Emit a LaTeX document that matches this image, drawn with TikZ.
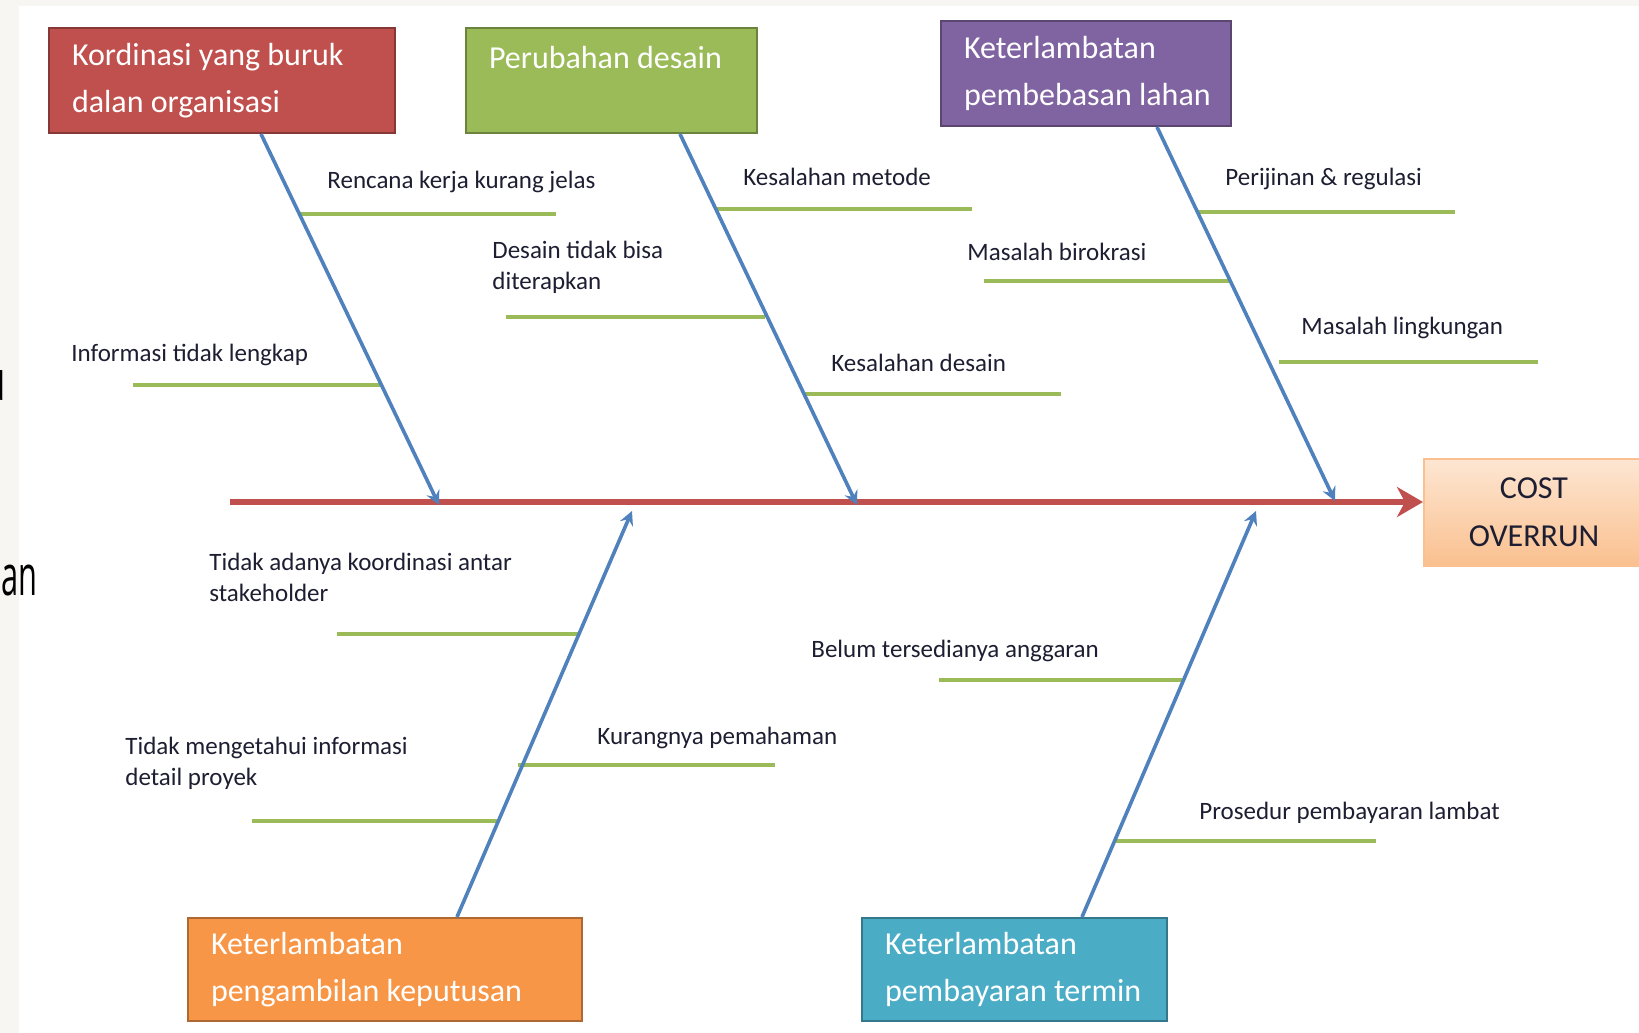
\documentclass[tikz,border=0pt]{standalone}
\usepackage{fontspec}
\setmainfont{Carlito}
\newfontfamily\pagefont{Open Sans}
\usetikzlibrary{arrows.meta}

\definecolor{pagegray}{HTML}{F7F6F2}
\definecolor{kred}{HTML}{C0504D}
\definecolor{kgreen}{HTML}{9BBB59}
\definecolor{kpurple}{HTML}{8064A2}
\definecolor{korange}{HTML}{F79646}
\definecolor{kblue}{HTML}{4BACC6}
\definecolor{bonec}{HTML}{4F81BD}
\definecolor{txtc}{HTML}{1E1E32}
\definecolor{costtop}{HTML}{FDE6D2}
\definecolor{costbot}{HTML}{FAC08F}

\def\boxh{52.5pt}
\tikzstyle{cat}=[rectangle,line width=1pt,text=white,align=flush left,inner xsep=11.5pt,inner ysep=0pt,minimum height=\boxh,font=\fontsize{16}{23.5}\selectfont]
\tikzstyle{costbox}=[rectangle,line width=1pt,draw=korange!60,top color=costtop,bottom color=costbot,text=txtc,align=center,minimum width=110pt,minimum height=53.5pt,font=\fontsize{16}{24}\selectfont]
\tikzstyle{lbl}=[inner sep=0pt,anchor=west,align=left,text=txtc,font=\fontsize{12.5}{15.5}\selectfont]
\tikzstyle{frag}=[anchor=base east,inner sep=0pt,font=\pagefont\fontsize{28}{28}\selectfont]
\tikzstyle{bone}=[draw=bonec,line width=1.8pt,-{Stealth[length=7pt,width=7pt,inset=2.5pt]}]
\tikzstyle{sub}=[draw=kgreen,line width=1.8pt]
\tikzstyle{spine}=[draw=kred,line width=3pt,-{Stealth[length=13pt,width=15pt,inset=4pt]}]

\begin{document}
\begin{tikzpicture}[x=0.5pt,y=-0.5pt]
\useasboundingbox (0,0) rectangle (1639,1033);
\fill[white] (0,0) rectangle (1639,1033);
\fill[pagegray] (0,0) rectangle (1639,6);
\fill[pagegray] (0,0) rectangle (19,1033);
% cut-off words of the page behind
\node[frag] (pu) at (6,400) {\scalebox{0.55}[1]{u}};
\node[frag] (pan) at (38,595) {\scalebox{0.55}[1]{an}};

% categories
\node[cat,fill=kred,draw=kred!70!black,text width=150pt] (1) at (222,80.5) {Kordinasi yang buruk\\dalan organisasi};
\node[cat,fill=kgreen,draw=kgreen!70!black,text width=122.5pt] (2) at (611.5,80.5) {Perubahan desain\\\mbox{}};
\node[cat,fill=kpurple,draw=kpurple!70!black,text width=122pt] (3) at (1086,73.5) {Keterlambatan\\\mbox{pembebasan lahan}};
\node[cat,fill=korange,draw=korange!70!black,text width=174pt,minimum height=51.5pt] (4) at (385,969.5) {Keterlambatan\\pengambilan keputusan};
\node[cat,fill=kblue,draw=kblue!70!black,text width=129.5pt,minimum height=51.5pt] (5) at (1014.5,969.5) {Keterlambatan\\\mbox{pembayaran termin}};
\node[costbox] (cost) at (1534,512.5) {COST\\OVERRUN};

% causes
\coordinate (r1a) at (298,214); \coordinate (r1b) at (556,214);
\draw[sub] (r1a) -- (r1b);
\node[lbl] (r1) at (327,182) {Rencana kerja kurang jelas};
\coordinate (r2a) at (133,385); \coordinate (r2b) at (380,385);
\draw[sub] (r2a) -- (r2b);
\node[lbl] (r2) at (71,355) {Informasi tidak lengkap};

\coordinate (g1a) at (506,317); \coordinate (g1b) at (765,317);
\draw[sub] (g1a) -- (g1b);
\node[lbl] (g1) at (492,267.5) {Desain tidak bisa\\diterapkan};
\coordinate (g2a) at (715,209); \coordinate (g2b) at (972,209);
\draw[sub] (g2a) -- (g2b);
\node[lbl] (g2) at (743,177) {Kesalahan metode};
\coordinate (g3a) at (804,394); \coordinate (g3b) at (1061,394);
\draw[sub] (g3a) -- (g3b);
\node[lbl] (g3) at (831,363) {Kesalahan desain};

\coordinate (p1a) at (1198,212); \coordinate (p1b) at (1455,212);
\draw[sub] (p1a) -- (p1b);
\node[lbl] (p1) at (1225,179) {Perijinan \& regulasi};
\coordinate (p2a) at (984,281); \coordinate (p2b) at (1230,281);
\draw[sub] (p2a) -- (p2b);
\node[lbl] (p2) at (967,252) {Masalah birokrasi};
\coordinate (p3a) at (1279,362); \coordinate (p3b) at (1538,362);
\draw[sub] (p3a) -- (p3b);
\node[lbl] (p3) at (1301,328) {Masalah lingkungan};

\coordinate (o1a) at (337,634); \coordinate (o1b) at (579,634);
\draw[sub] (o1a) -- (o1b);
\node[lbl] (o1) at (209,577) {Tidak adanya koordinasi antar\\stakeholder};
\coordinate (o2a) at (252,821); \coordinate (o2b) at (497,821);
\draw[sub] (o2a) -- (o2b);
\node[lbl] (o2) at (125,763.5) {Tidak mengetahui informasi\\detail proyek};
\coordinate (o3a) at (518,765); \coordinate (o3b) at (775,765);
\draw[sub] (o3a) -- (o3b);
\node[lbl] (o3) at (597,738) {Kurangnya pemahaman};

\coordinate (b1a) at (939,680); \coordinate (b1b) at (1182,680);
\draw[sub] (b1a) -- (b1b);
\node[lbl] (b1) at (811,651) {Belum tersedianya anggaran};
\coordinate (b2a) at (1116,841); \coordinate (b2b) at (1376,841);
\draw[sub] (b2a) -- (b2b);
\node[lbl] (b2) at (1199,813) {Prosedur pembayaran lambat};

% spine and bones
\coordinate (tail) at (230,502);
\draw[spine] (tail) -- (tail -| cost.west);
\coordinate (h1) at (439,505);
\coordinate (h2) at (857,505);
\coordinate (h3) at (1335,501);
\coordinate (h4) at (632,511);
\coordinate (h5) at (1256,511);
\draw[bone] ([xshift=19.5pt]1.south) -- (h1);
\draw[bone] ([xshift=34.25pt]2.south) -- (h2);
\draw[bone] ([xshift=35.5pt]3.south) -- (h3);
\draw[bone] ([xshift=36pt]4.north) -- (h4);
\draw[bone] ([xshift=33.75pt]5.north) -- (h5);
\end{tikzpicture}
\end{document}
